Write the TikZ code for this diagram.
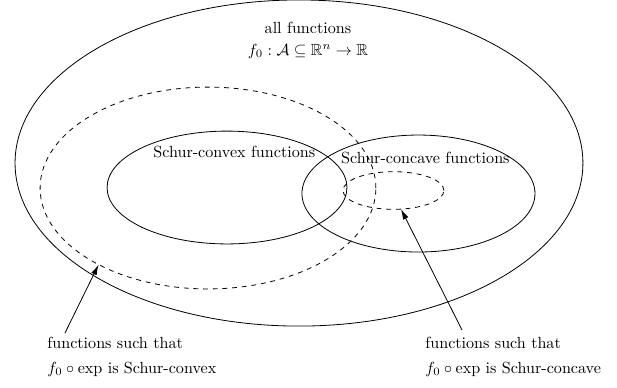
\documentclass[tikz,border=0pt]{standalone}
\usepackage{amsmath, amssymb}
\usepackage{tikz}
\usetikzlibrary{shapes.geometric, arrows.meta, positioning, calc}

\begin{document}
\begin{tikzpicture}[line width=0.5pt,
            region/.style={ellipse, draw, inner sep=0pt, outer sep=0pt},
            pointer/.style={-{Latex[length=6.5pt, width=3.6pt]}},
            caption/.style={inner sep=0pt, align=left}]

            \useasboundingbox (0,0) rectangle (13.451,8.437);

            % the sets
            \node[region, minimum width=12.38cm, minimum height=7.11cm] (all) at (6.518,4.883) {};
            \node[region, dashed, minimum width=7.32cm, minimum height=4.40cm] (expcvx) at (4.534,4.338) {};
            \node[region, minimum width=5.23cm, minimum height=2.46cm] (cvx) at (4.949,4.349) {};
            \node[region, minimum width=5.08cm, minimum height=2.55cm] (ccv) at (9.123,4.218) {};
            \node[region, dashed, minimum width=2.20cm, minimum height=0.82cm] (expccv) at (8.578,4.284) {};

            % labels
            \node[inner sep=0pt, align=center] (alllbl) at (6.714,7.565) {all functions\\[1.6pt]$f_0:\mathcal{A}\subseteq\mathbb{R}^n\to\mathbb{R}$};
            \node[inner sep=0pt, anchor=base west] (cvxlbl) at (3.335,5.003) {Schur-convex functions};
            \node[inner sep=0pt, anchor=base west] (ccvlbl) at (7.427,4.883) {Schur-concave functions};

            \node[caption, anchor=north west] (expcvxlbl) at (1.025,1.094) {functions such that\\[3.5pt]$f_0\circ\exp$ is Schur-convex};
            \node[caption, anchor=north west] (expccvlbl) at (9.265,1.094) {functions such that\\[3.5pt]$f_0\circ\exp$ is Schur-concave};

            \draw[pointer] ($(expcvxlbl.north west)+(0.39,0.08)$) -- (expcvx.215.5);
            \draw[pointer] ($(expccvlbl.north west)+(0.807,0.15)$) -- (expccv.-68);
        \end{tikzpicture}
\end{document}
